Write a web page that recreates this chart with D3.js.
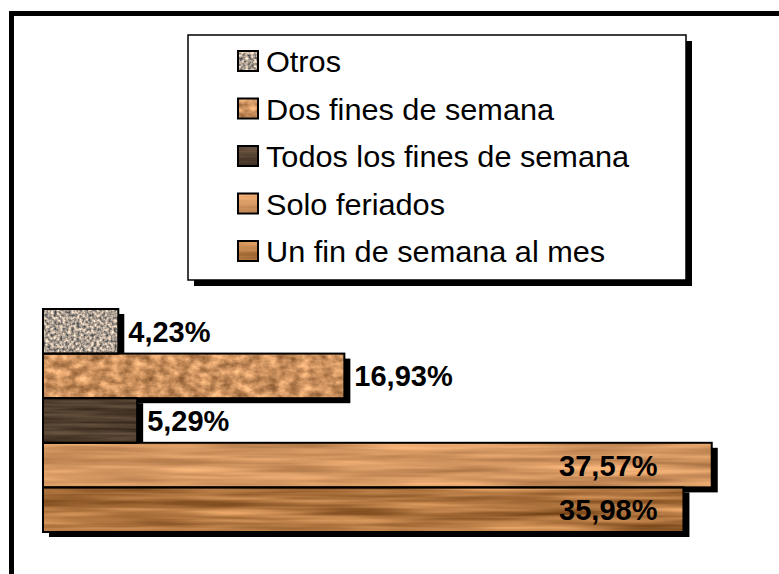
<!DOCTYPE html>
<html>
<head>
<meta charset="utf-8">
<script src="https://cdn.jsdelivr.net/npm/d3@7"></script>
<style>
  html, body { margin: 0; padding: 0; background: #fff; }
  svg { display: block; }
</style>
</head>
<body>
<script>
// ---- data ----
const categories = ["Otros", "Dos fines de semana", "Todos los fines de semana", "Solo feriados", "Un fin de semana al mes"];
const values = [4.23, 16.93, 5.29, 37.57, 35.98];
const xTicks = [0, 40];

// ---- textures (style) ----
const textures = [
  { id: "t0", freq: "0.35", oct: 2, type: "fractalNoise", mean: [0.68, 0.63, 0.58], k: 1.3 },
  { id: "t1", freq: "0.09 0.13", oct: 4, type: "fractalNoise", mean: [0.80, 0.57, 0.37], k: 0.7 },
  { id: "t2", freq: "0.01 0.25", oct: 3, type: "fractalNoise", mean: [0.31, 0.24, 0.18], k: 0.35 },
  { id: "t3", freq: "0.006 0.12", oct: 3, type: "fractalNoise", mean: [0.83, 0.59, 0.38], k: 0.5 },
  { id: "t4", freq: "0.005 0.11", oct: 3, type: "fractalNoise", mean: [0.69, 0.46, 0.25], k: 0.8 }
];

const W = 779, H = 574;
const svg = d3.select("body").append("svg").attr("width", W).attr("height", H);
const defs = svg.append("defs");

textures.forEach(t => {
  const f = defs.append("filter").attr("id", t.id)
    .attr("x", 0).attr("y", 0).attr("width", 1).attr("height", 1)
    .attr("color-interpolation-filters", "sRGB");
  f.append("feTurbulence").attr("type", t.type).attr("baseFrequency", t.freq)
    .attr("numOctaves", t.oct).attr("seed", 3).attr("result", "n");
  const k = t.k, m = t.mean;
  const vals = [
    k, 0, 0, 0, m[0] - 0.5 * k,
    k * 0.85, 0, 0, 0, m[1] - 0.425 * k,
    k * 0.7, 0, 0, 0, m[2] - 0.35 * k,
    0, 0, 0, 0, 1
  ].join(" ");
  f.append("feColorMatrix").attr("in", "n").attr("type", "matrix").attr("values", vals).attr("result", "c");
  f.append("feComposite").attr("in", "c").attr("in2", "SourceGraphic").attr("operator", "in");
});

// outer frame
svg.append("rect").attr("x", 11.5).attr("y", 13.5).attr("width", 820).attr("height", 620)
  .attr("fill", "none").attr("stroke", "#000").attr("stroke-width", 5);

// ---- scales ----
const x = d3.scaleLinear().domain(d3.extent(xTicks)).range([43, 755]);
const y = d3.scaleBand().domain(categories).range([309, 532]).padding(0);

const data = categories.map((c, i) => ({ c, v: values[i], t: textures[i].id }));
const fmt = v => d3.format(".2f")(v).replace(".", ",") + "%";
const insideThreshold = 30;
const insideEnd = x(d3.min(values.filter(v => v > insideThreshold))) - 26;

// shadows
svg.append("g").selectAll("rect").data(data).join("rect")
  .attr("x", x(0) + 6).attr("y", d => y(d.c) + 5)
  .attr("width", d => x(d.v) - x(0)).attr("height", y.bandwidth())
  .attr("fill", "#000");

// bars with texture
svg.append("g").selectAll("rect").data(data).join("rect")
  .attr("x", x(0)).attr("y", d => y(d.c))
  .attr("width", d => x(d.v) - x(0)).attr("height", y.bandwidth())
  .attr("fill", "#fff").attr("filter", d => `url(#${d.t})`);

// outlines
svg.append("g").selectAll("rect").data(data).join("rect")
  .attr("x", x(0)).attr("y", d => y(d.c))
  .attr("width", d => x(d.v) - x(0)).attr("height", y.bandwidth())
  .attr("fill", "none").attr("stroke", "#000").attr("stroke-width", 2);

// labels
svg.append("g").selectAll("text").data(data).join("text")
  .attr("x", d => d.v > insideThreshold ? insideEnd : x(d.v) + 10)
  .attr("y", d => y(d.c) + y.bandwidth() / 2)
  .attr("dy", "0.36em")
  .attr("text-anchor", d => d.v > insideThreshold ? "end" : "start")
  .attr("font-family", "'Liberation Sans', Arial, sans-serif")
  .attr("font-weight", "bold").attr("font-size", 29).attr("fill", "#000")
  .text(d => fmt(d.v));

// ---- legend ----
const lg = svg.append("g");
lg.append("rect").attr("x", 194).attr("y", 41).attr("width", 498).attr("height", 245).attr("fill", "#000");
lg.append("rect").attr("x", 188).attr("y", 35).attr("width", 498).attr("height", 245)
  .attr("fill", "#fff").attr("stroke", "#000").attr("stroke-width", 1.5);

const items = lg.selectAll("g.item").data(data).join("g").attr("class", "item")
  .attr("transform", (d, i) => `translate(0, ${72 + i * 47.5})`);
items.append("rect").attr("x", 238).attr("y", -21).attr("width", 20).attr("height", 20)
  .attr("fill", "#fff").attr("filter", d => `url(#${d.t})`);
items.append("rect").attr("x", 238).attr("y", -21).attr("width", 20).attr("height", 20)
  .attr("fill", "none").attr("stroke", "#000").attr("stroke-width", 2);
items.append("text")
  .attr("transform", "translate(266,0) scale(1.04,1)")
  .attr("font-family", "'Liberation Sans', Arial, sans-serif")
  .attr("font-size", 29.5).attr("fill", "#000")
  .text(d => d.c);
</script>
</body>
</html>
